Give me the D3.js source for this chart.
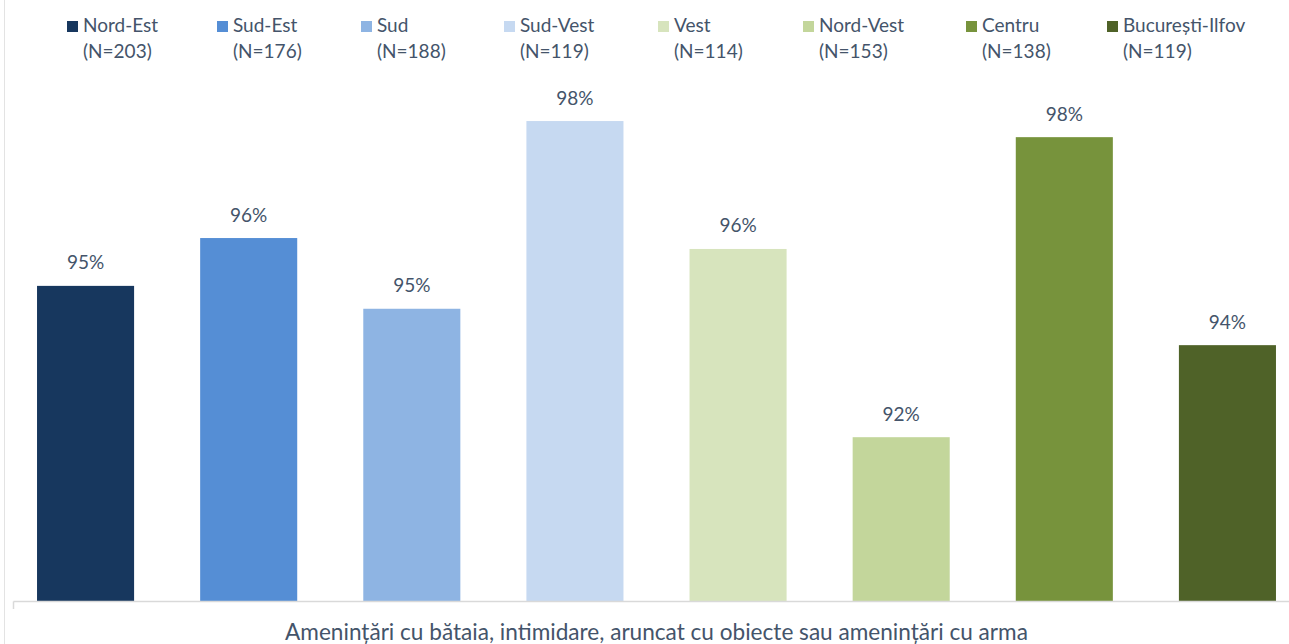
<!DOCTYPE html>
<html>
<head>
<meta charset="utf-8">
<script src="https://cdn.jsdelivr.net/npm/d3@7"></script>
<style>
  html, body { margin: 0; padding: 0; background: #fff; }
  svg { display: block; }
  text { font-family: Lato, "Noto Sans", sans-serif; fill: #44546A; }
</style>
</head>
<body>
<svg id="chart" width="1289" height="644"></svg>
<script>
// ---- data ----
const regions = ["Nord-Est", "Sud-Est", "Sud", "Sud-Vest", "Vest", "Nord-Vest", "Centru", "București-Ilfov"];
const sampleN = ["(N=203)", "(N=176)", "(N=188)", "(N=119)", "(N=114)", "(N=153)", "(N=138)", "(N=119)"];
const values = [95.06, 95.98, 94.62, 98.23, 95.77, 92.15, 97.92, 93.92];
const colors = ["#17375E", "#558ED5", "#8EB4E3", "#C6D9F1", "#D7E4BD", "#C3D69B", "#77933C", "#4F6228"];
const categoryLabel = "Amenințări cu bătaia, intimidare, aruncat cu obiecte sau amenințări cu arma";

// ---- layout ----
const W = 1289, H = 644;
const plotLeft = 4, plotRight = 1309, baseY = 601, topY = 81;
const legendX = [67, 217, 361, 504, 658, 803, 966, 1107];

const svg = d3.select("#chart");

// frame line on the left
svg.append("line").attr("x1", 4.5).attr("x2", 4.5).attr("y1", 0).attr("y2", H)
  .attr("stroke", "#e3e3e3").attr("stroke-width", 1);

const x = d3.scaleBand().domain(regions).range([plotLeft, plotRight])
  .paddingInner(0.405).paddingOuter(0.2025);
const y = d3.scaleLinear().domain([89, 99]).range([baseY, topY]);

// bars
svg.append("g").selectAll("rect").data(regions).join("rect")
  .attr("x", d => x(d))
  .attr("width", x.bandwidth())
  .attr("y", (d, i) => y(values[i]))
  .attr("height", (d, i) => baseY - y(values[i]))
  .attr("fill", (d, i) => colors[i]);

// data labels
const fmt = v => d3.format(".0f")(v) + "%";
svg.append("g").selectAll("text").data(regions).join("text")
  .attr("x", d => x(d) + x.bandwidth() / 2)
  .attr("y", (d, i) => y(values[i]) - 16.5)
  .attr("text-anchor", "middle")
  .attr("font-size", 19)
  .text((d, i) => fmt(values[i]));

// axis line
svg.append("path")
  .attr("d", `M13.5,${baseY + 0.5}H${W}M13.5,${baseY + 0.5}V${baseY + 8}`)
  .attr("stroke", "#d9d9d9").attr("stroke-width", 1.5).attr("fill", "none");

// category label
svg.append("text")
  .attr("x", (plotLeft + plotRight) / 2)
  .attr("y", 640)
  .attr("text-anchor", "middle")
  .attr("font-size", 22.6)
  .text(categoryLabel);

// legend
const lg = svg.append("g").selectAll("g").data(regions).join("g")
  .attr("transform", (d, i) => `translate(${legendX[i]},0)`);
lg.append("rect").attr("x", 0).attr("y", 21).attr("width", 11).attr("height", 11)
  .attr("fill", (d, i) => colors[i]);
lg.append("text").attr("x", 16).attr("y", 32).attr("font-size", 19).text(d => d);
lg.append("text").attr("x", 16).attr("y", 58).attr("font-size", 19).text((d, i) => sampleN[i]);
</script>
</body>
</html>
